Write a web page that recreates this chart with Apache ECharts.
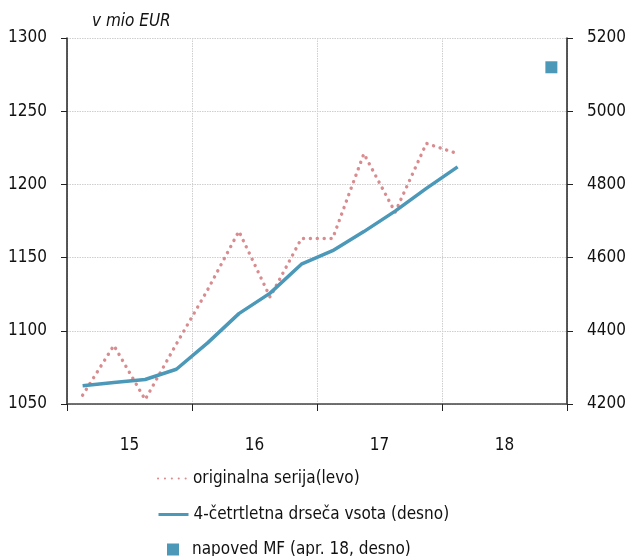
<!DOCTYPE html>
<html>
<head>
<meta charset="utf-8">
<script src="https://cdn.jsdelivr.net/npm/echarts@6/dist/echarts.min.js"></script>
<style>
  html, body { margin: 0; padding: 0; background: #fff; }
  #chart { width: 629px; height: 556px; }
</style>
</head>
<body>
<div id="chart"></div>
<script>
// Quarterly categories, 2015 Q1 – 2018 Q4
const quarters = [
  '2015 Q1', '2015 Q2', '2015 Q3', '2015 Q4',
  '2016 Q1', '2016 Q2', '2016 Q3', '2016 Q4',
  '2017 Q1', '2017 Q2', '2017 Q3', '2017 Q4',
  '2018 Q1', '2018 Q2', '2018 Q3', '2018 Q4'
];
// Year labels shown under the axis
const yearLabels = ['15', '16', '17', '18'];

// Quarterly values, mio EUR (left axis)
const originalSeries = [1056, 1090, 1053, 1091, 1128, 1168, 1123, 1163, 1163, 1221, 1181, 1228, 1221];
// Four-quarter rolling sum, mio EUR (right axis)
const rollingSum = [4250, 4259, 4267, 4295, 4367, 4447, 4503, 4582, 4619, 4671, 4727, 4789, 4848];
// Ministry of Finance forecast (April 2018), right axis
const forecastQuarter = '2018 Q4';
const forecastValue = 5120;

const seriesNames = [
  'originalna serija(levo)',
  '4-četrtletna drseča vsota (desno)',
  'napoved MF (apr. 18, desno)'
];

const FONT = '"DejaVu Sans Condensed", "Liberation Sans Narrow", "Roboto", sans-serif';
const RED = '#d98c8f';
const BLUE = '#4b98b8';
const GRID = { color: '#cfcfcf', type: [1.5, 1], width: 1 };

const plain = v => String(v);

// One legend row per series, stacked below the plot
const legendRow = (item, top, left, width, textPad) => ({
  left: left,
  top: top,
  padding: 0,
  itemWidth: width,
  itemHeight: 12,
  textStyle: { fontFamily: FONT, fontSize: 17, color: '#111', padding: [0, 0, 0, textPad] },
  data: [item]
});

const chart = echarts.init(document.getElementById('chart'), null, { renderer: 'canvas' });

chart.setOption({
  animation: false,
  backgroundColor: '#fff',
  textStyle: { fontFamily: FONT },
  title: {
    text: 'v mio EUR',
    left: 87,
    top: 8,
    textStyle: { fontFamily: FONT, fontSize: 17, fontStyle: 'italic', fontWeight: 'normal', color: '#111' }
  },
  grid: { left: 67, right: 62, top: 38, bottom: 152 },
  legend: [
    legendRow({ name: seriesNames[0], itemStyle: { opacity: 0 } }, 470, 157, 30, 0),
    legendRow({ name: seriesNames[1], itemStyle: { opacity: 0 }, lineStyle: { width: 3 } }, 506, 157, 30, 0),
    legendRow({ name: seriesNames[2], icon: 'rect' }, 541, 167, 12, 8)
  ],
  xAxis: [
    {
      type: 'category',
      data: quarters,
      boundaryGap: true,
      show: false
    },
    {
      type: 'category',
      data: yearLabels,
      position: 'bottom',
      boundaryGap: true,
      axisLine: { show: true, lineStyle: { color: '#444', width: 1.5 } },
      axisTick: { show: true, length: 7, lineStyle: { color: '#222', width: 1 } },
      axisLabel: { margin: 33, fontSize: 17, color: '#111', fontFamily: FONT },
      splitLine: { show: true, lineStyle: GRID }
    }
  ],
  yAxis: [
    {
      type: 'value',
      min: 1050,
      max: 1300,
      interval: 50,
      position: 'left',
      axisLine: { show: true, lineStyle: { color: '#222', width: 1.5 } },
      axisTick: { show: true, length: 6, lineStyle: { color: '#222' } },
      axisLabel: { margin: 20, fontSize: 17, color: '#111', fontFamily: FONT, formatter: plain },
      splitLine: { show: true, lineStyle: GRID }
    },
    {
      type: 'value',
      min: 4200,
      max: 5200,
      interval: 200,
      position: 'right',
      axisLine: { show: true, lineStyle: { color: '#222', width: 1.5 } },
      axisTick: { show: true, length: 6, lineStyle: { color: '#222' } },
      axisLabel: { margin: 20, fontSize: 17, color: '#111', fontFamily: FONT, formatter: plain },
      splitLine: { show: false }
    }
  ],
  series: [
    {
      name: seriesNames[0],
      type: 'line',
      xAxisIndex: 0,
      yAxisIndex: 0,
      data: originalSeries,
      symbol: 'none',
      lineStyle: { color: RED, width: 3.4, type: [0.1, 6.8], cap: 'round' },
      itemStyle: { color: RED },
      z: 3
    },
    {
      name: seriesNames[1],
      type: 'line',
      xAxisIndex: 0,
      yAxisIndex: 1,
      data: rollingSum,
      symbol: 'none',
      lineStyle: { color: BLUE, width: 3.5 },
      itemStyle: { color: BLUE },
      z: 4
    },
    {
      name: seriesNames[2],
      type: 'scatter',
      xAxisIndex: 0,
      yAxisIndex: 1,
      data: [[forecastQuarter, forecastValue]],
      symbol: 'rect',
      symbolSize: 12,
      itemStyle: { color: BLUE, opacity: 1 },
      z: 5
    }
  ]
});
</script>
</body>
</html>
